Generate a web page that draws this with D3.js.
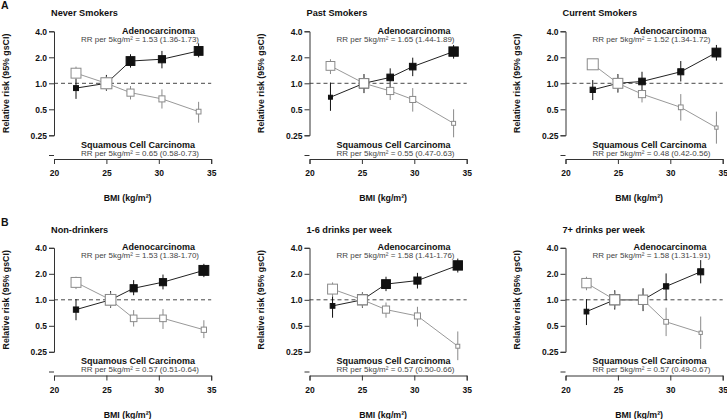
<!DOCTYPE html>
<html><head><meta charset="utf-8">
<script src="https://cdn.jsdelivr.net/npm/d3@7"></script>
<style>
body{margin:0;background:#fff;}
svg{display:block;font-family:"Liberation Sans",Arial,sans-serif;}
</style></head>
<body><svg id="c" width="727" height="419"></svg>
<script>
// ---- data ----
const sectionLabels = ["A", "B"];
const panelTitles = ["Never Smokers", "Past Smokers", "Current Smokers", "Non-drinkers", "1-6 drinks per week", "7+ drinks per week"];
const bmiTicks = [20, 25, 30, 35];
const rrTicks = [4.0, 2.0, 1.0, 0.5, 0.25];
const rrTickLabels = ["4.0", "2.0", "1.0", "0.5", "0.25"];
const adenoTrend = ["1.53 (1.36-1.73)", "1.65 (1.44-1.89)", "1.52 (1.34-1.72)", "1.53 (1.38-1.70)", "1.58 (1.41-1.76)", "1.58 (1.31-1.91)"];
const squamTrend = ["0.65 (0.58-0.73)", "0.55 (0.47-0.63)", "0.48 (0.42-0.56)", "0.57 (0.51-0.64)", "0.57 (0.50-0.66)", "0.57 (0.49-0.67)"];

const bmi = [
  [22.1, 25.0, 27.3, 30.3, 33.8],
  [22.0, 25.2, 27.7, 29.85, 33.75],
  [22.6, 25.0, 27.3, 31.0, 34.4],
  [22.1, 25.4, 27.6, 30.4, 34.3],
  [22.2, 25.05, 27.3, 30.3, 34.15],
  [22.0, 24.7, 27.4, 29.6, 32.9]
];
const adenoRR = [
  [0.88, 1.0, 1.81, 1.90, 2.37],
  [0.69, 1.0, 1.17, 1.56, 2.33],
  [0.84, 1.0, 1.05, 1.36, 2.27],
  [0.77, 1.0, 1.36, 1.60, 2.19],
  [0.85, 1.0, 1.52, 1.67, 2.50],
  [0.73, 1.0, 1.0, 1.43, 2.11]
];
const adenoLo = [
  [0.66, 0.82, 1.52, 1.49, 2.0],
  [0.48, 0.77, 0.90, 1.21, 1.93],
  [0.64, 0.78, 0.80, 1.05, 1.83],
  [0.58, 0.81, 1.13, 1.32, 1.83],
  [0.62, 0.81, 1.26, 1.35, 2.07],
  [0.51, 0.77, 0.74, 0.99, 1.55]
];
const adenoHi = [
  [1.12, 1.25, 2.17, 2.37, 2.9],
  [1.02, 1.28, 1.49, 1.98, 2.78],
  [1.09, 1.28, 1.36, 1.81, 2.78],
  [1.02, 1.26, 1.69, 1.96, 2.61],
  [1.11, 1.22, 1.85, 2.05, 3.0],
  [1.02, 1.29, 1.36, 2.02, 2.88]
];
const adenoWeight = [
  [4.5, 9, 8, 6.5, 8],
  [3.6, 8.5, 6, 6, 8.5],
  [4.8, 8, 6, 5.5, 8],
  [4.8, 9, 6.5, 6.5, 9],
  [4.3, 9, 8, 6.5, 8.5],
  [4.3, 9, 8, 4.8, 5.5]
];
const squamRR = [
  [1.31, 1.0, 0.78, 0.66, 0.47],
  [1.59, 1.0, 0.815, 0.65, 0.344],
  [1.66, 1.0, 0.75, 0.527, 0.307],
  [1.59, 1.0, 0.61, 0.61, 0.45],
  [1.33, 1.0, 0.77, 0.65, 0.29],
  [1.56, 1.0, 1.0, 0.556, 0.415]
];
const squamLo = [
  [1.04, 0.84, 0.65, 0.51, 0.35],
  [1.28, 0.80, 0.64, 0.47, 0.237],
  [1.50, 0.80, 0.60, 0.37, 0.20],
  [1.33, 0.82, 0.49, 0.46, 0.36],
  [1.08, 0.82, 0.62, 0.49, 0.20],
  [1.29, 0.80, 0.78, 0.38, 0.27]
];
const squamHi = [
  [1.56, 1.2, 0.93, 0.85, 0.61],
  [1.90, 1.25, 1.05, 0.88, 0.50],
  [1.85, 1.25, 0.93, 0.75, 0.47],
  [1.85, 1.22, 0.76, 0.78, 0.58],
  [1.59, 1.22, 0.93, 0.83, 0.43],
  [1.85, 1.25, 1.30, 0.81, 0.64]
];
const squamWeight = [
  [9, 10, 6.5, 5.5, 4.3],
  [8, 8.5, 6.5, 5.5, 3.6],
  [10, 9, 6.5, 4.3, 3],
  [9, 9.7, 6, 6, 4.8],
  [9, 9, 6.5, 5.5, 3.6],
  [8.5, 9, 8.5, 4.3, 3]
];

// ---- layout ----
const svg = d3.select("#c");
const colX = [54, 309.5, 565.5];
const rowY = [0, 216.5];
const plotW = 157.2;
const BLACK = "#111", GREY = "#8a8a8a", TXTGREY = "#444";
const side = d3.scaleLinear().domain([0, 10]).range([0, 11]);

sectionLabels.forEach((s, r) => {
  svg.append("text").attr("x", 1).attr("y", 9 + rowY[r])
    .attr("font-size", 10.5).attr("font-weight", "bold").attr("fill", "#111").text(s);
});

for (let p = 0; p < 6; p++) {
  const r = Math.floor(p / 3), c = p % 3;
  const x0 = colX[c], oy = rowY[r];
  const g = svg.append("g").attr("transform", `translate(0,${oy})`);
  const x = d3.scaleLinear().domain([20, 35]).range([x0, x0 + plotW]);
  const y = d3.scaleLog().base(2).domain([0.25, 4]).range([135.3, 31.3]);
  const yBottom = y.invert(155);

  // title
  g.append("text").attr("x", x0 - 3).attr("y", 16).attr("font-size", 9.2)
    .attr("font-weight", "bold").attr("fill", "#111").text(panelTitles[p]);

  // y axis
  const yAx = d3.axisLeft(y).tickValues(rrTicks.concat([yBottom]))
    .tickFormat((d, i) => i < rrTickLabels.length ? rrTickLabels[i] : "")
    .tickSizeOuter(0).tickSize(5).tickPadding(2);
  const ya = g.append("g").attr("transform", `translate(${x0},0)`).call(yAx);
  ya.select(".domain").attr("stroke", "#333");
  ya.selectAll(".tick line").attr("stroke", "#333");
  ya.selectAll(".tick text").attr("font-size", 8.5).attr("font-weight", "bold")
    .attr("fill", "#111").attr("font-family", "Liberation Sans, Arial, sans-serif");

  // x axis
  const xAx = d3.axisBottom(x).tickValues(bmiTicks).tickFormat(d3.format("d"))
    .tickSizeOuter(0).tickSize(5).tickPadding(6);
  const xa = g.append("g").attr("transform", `translate(0,159)`).call(xAx);
  xa.select(".domain").attr("stroke", "#333");
  xa.selectAll(".tick line").attr("stroke", "#333");
  xa.selectAll(".tick text").attr("font-size", 8.5).attr("font-weight", "bold")
    .attr("fill", "#111").attr("font-family", "Liberation Sans, Arial, sans-serif");

  // axis titles
  g.append("text").attr("x", x0 + plotW / 2 - 5).attr("y", 201).attr("text-anchor", "middle")
    .attr("font-size", 8.8).attr("font-weight", "bold").attr("fill", "#111").text("BMI (kg/m²)");
  g.append("text").attr("transform", `translate(${x0 - 45.5},${y(1)}) rotate(-90)`)
    .attr("text-anchor", "middle").attr("font-size", 8.8).attr("font-weight", "bold")
    .attr("fill", "#111").text("Relative risk (95% gsCI)");

  // reference dashed line
  g.append("line").attr("x1", x0).attr("x2", x(35)).attr("y1", y(1)).attr("y2", y(1))
    .attr("stroke", "#333").attr("stroke-width", 0.9).attr("stroke-dasharray", "4,3");

  // annotations
  g.append("text").attr("x", x0 + 141).attr("y", 33.5).attr("text-anchor", "end")
    .attr("font-size", 9).attr("font-weight", "bold").attr("fill", "#111").text("Adenocarcinoma");
  g.append("text").attr("x", x0 + 145).attr("y", 41.5).attr("text-anchor", "end")
    .attr("font-size", 8).attr("fill", TXTGREY).text("RR per 5kg/m² = " + adenoTrend[p]);
  g.append("text").attr("x", x0 + 141).attr("y", 147.5).attr("text-anchor", "end")
    .attr("font-size", 9).attr("font-weight", "bold").attr("fill", "#111").text("Squamous Cell Carcinoma");
  g.append("text").attr("x", x0 + 145).attr("y", 155.5).attr("text-anchor", "end")
    .attr("font-size", 8).attr("fill", TXTGREY).text("RR per 5kg/m² = " + squamTrend[p]);

  const series = [
    {rr: adenoRR[p], lo: adenoLo[p], hi: adenoHi[p], w: adenoWeight[p], stroke: BLACK, fill: BLACK, line: "#222"},
    {rr: squamRR[p], lo: squamLo[p], hi: squamHi[p], w: squamWeight[p], stroke: GREY, fill: "#fff", line: "#999"}
  ];
  series.forEach(s => {
    const pts = bmi[p].map((b, i) => ({b, rr: s.rr[i], lo: s.lo[i], hi: s.hi[i], w: s.w[i]}));
    g.selectAll(null).data(pts).join("line")
      .attr("x1", d => x(d.b)).attr("x2", d => x(d.b))
      .attr("y1", d => y(d.lo)).attr("y2", d => y(d.hi))
      .attr("stroke", s.stroke).attr("stroke-width", 1);
    g.append("path").datum(pts)
      .attr("d", d3.line().x(d => x(d.b)).y(d => y(d.rr)))
      .attr("fill", "none").attr("stroke", s.line).attr("stroke-width", 1);
    g.selectAll(null).data(pts).join("rect")
      .attr("x", d => x(d.b) - side(d.w) / 2).attr("y", d => y(d.rr) - side(d.w) / 2)
      .attr("width", d => side(d.w)).attr("height", d => side(d.w))
      .attr("fill", s.fill).attr("stroke", s.stroke).attr("stroke-width", 1);
  });
}
</script></body></html>
